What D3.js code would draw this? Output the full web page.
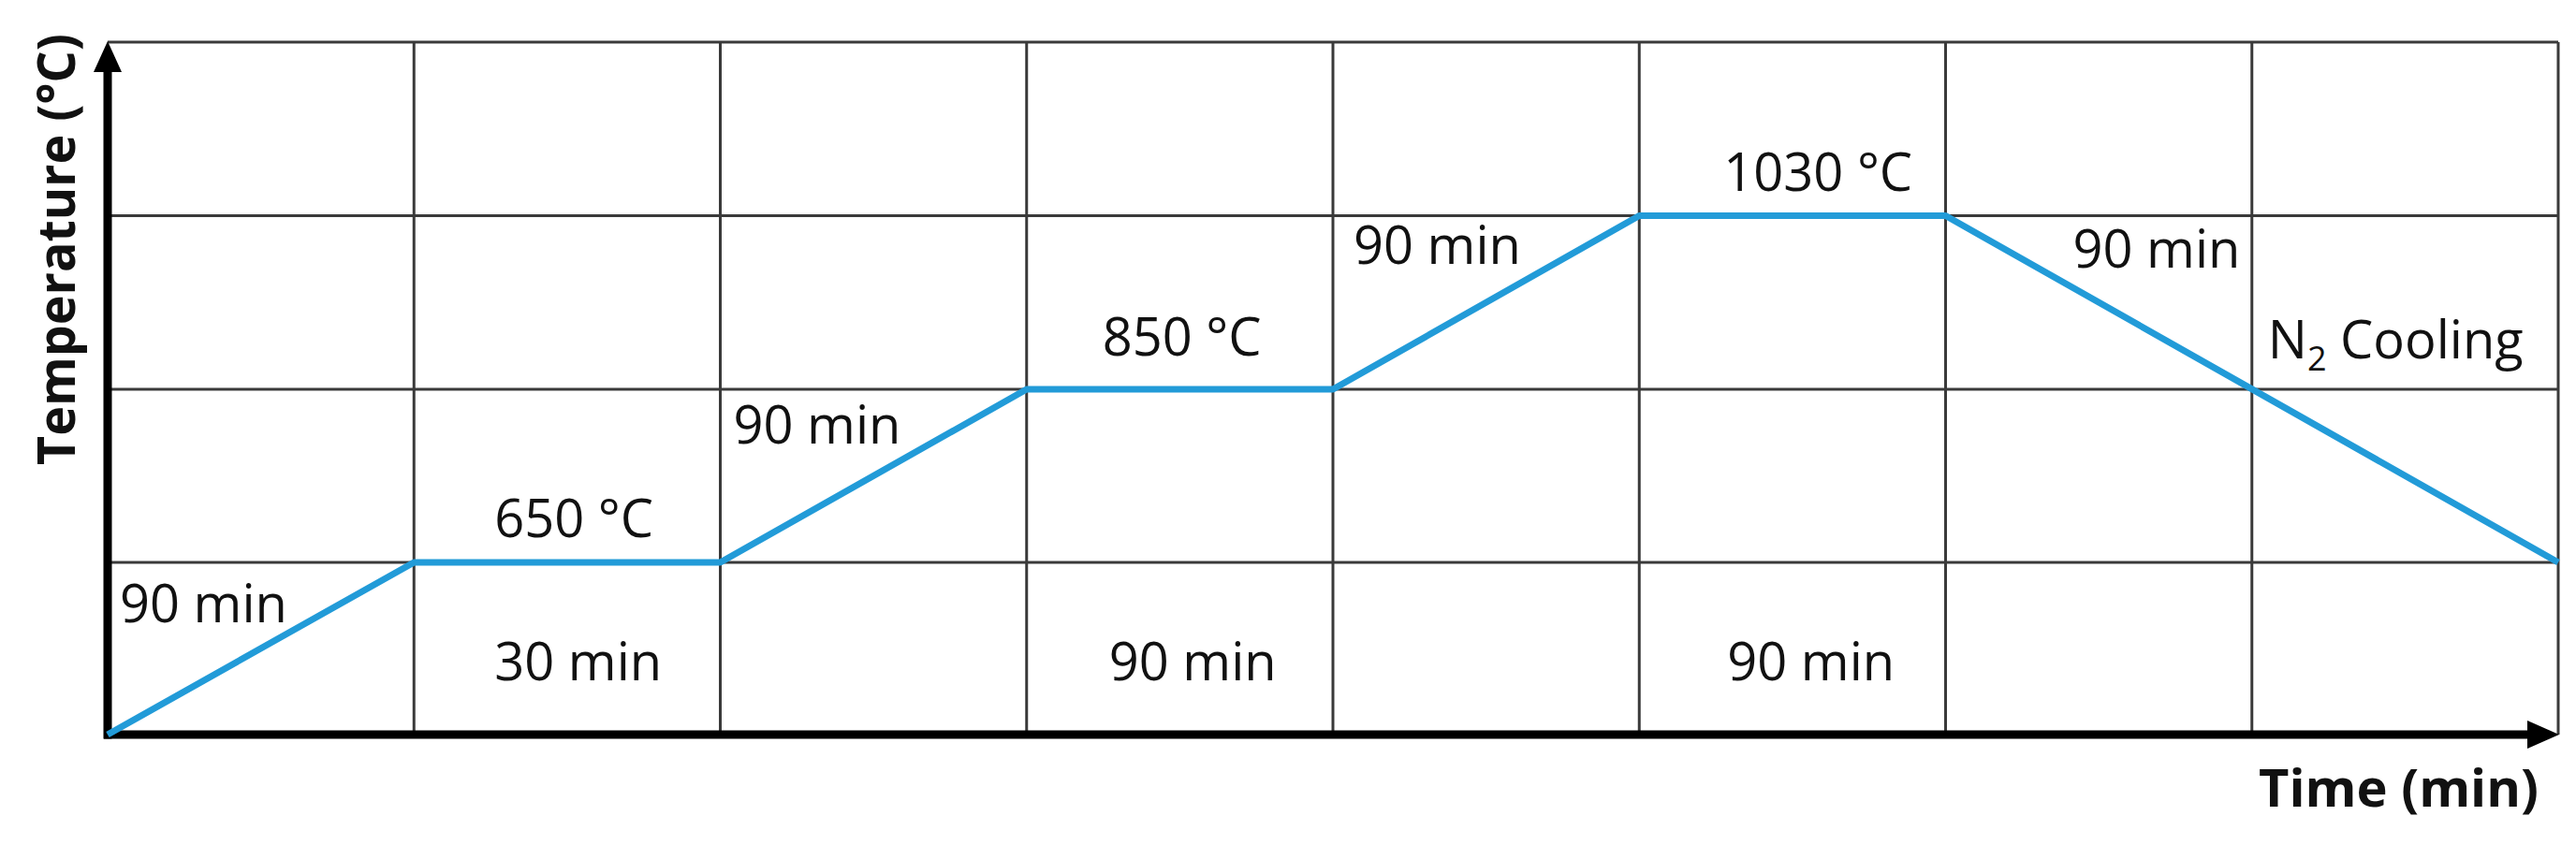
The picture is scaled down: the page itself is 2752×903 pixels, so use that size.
<!DOCTYPE html>
<html>
<head>
<meta charset="utf-8">
<script src="https://cdn.jsdelivr.net/npm/d3@7"></script>
<style>
  html, body { margin: 0; padding: 0; background: #fff; }
  svg { display: block; }
  text { font-family: "Open Sans", "Noto Sans", sans-serif; fill: #111; }
</style>
</head>
<body>
<svg id="chart" width="2752" height="903"></svg>
<script>
// ---- data (schematic heat-treatment profile) ----
const stepPositions = [0, 1, 2, 3, 4, 5, 6, 8];          // schematic grid columns
const temperatures  = [25, 650, 650, 850, 850, 1030, 1030, 650]; // °C
const tempLevels    = [25, 650, 850, 1030, 1210];           // grid levels (°C)
const columnTicks   = [1, 2, 3, 4, 5, 6, 7, 8];
const stageLabels   = ["90 min", "650 °C", "30 min", "90 min", "850 °C", "90 min",
                       "90 min", "1030 °C", "90 min", "90 min"];
const xTitle = "Time (min)";
const yTitle = "Temperature (°C)";

// ---- layout ----
const svg = d3.select("#chart");
const x = d3.scaleLinear().domain([0, 8]).range([115, 2733]);
const y = d3.scaleLinear().domain(tempLevels).range([785, 601, 416, 230.5, 45]);

// grid
const grid = svg.append("g").attr("stroke", "#3a3a3a").attr("stroke-width", 3);
grid.selectAll("line.h").data(tempLevels.slice(1)).join("line")
  .attr("x1", x(0)).attr("x2", x(8))
  .attr("y1", d => y(d)).attr("y2", d => y(d));
grid.selectAll("line.v").data(columnTicks).join("line")
  .attr("x1", d => x(d)).attr("x2", d => x(d))
  .attr("y1", y(tempLevels[4])).attr("y2", y(tempLevels[0]));

// axes
const ax = svg.append("g");
ax.append("line").attr("x1", x(0) - 4).attr("x2", x(8) - 30)
  .attr("y1", y(tempLevels[0])).attr("y2", y(tempLevels[0]))
  .attr("stroke", "#000").attr("stroke-width", 9);
ax.append("line").attr("x1", x(0)).attr("x2", x(0))
  .attr("y1", y(tempLevels[0]) + 4.5).attr("y2", y(tempLevels[4]) + 30)
  .attr("stroke", "#000").attr("stroke-width", 9);
// arrowheads
const x0 = x(0), yTop = y(tempLevels[4]), yB = y(tempLevels[0]), xR = x(8);
ax.append("path").attr("fill", "#000")
  .attr("d", `M${x0},${yTop - 1} L${x0 - 15},${yTop + 32} L${x0 + 15},${yTop + 32} Z`);
ax.append("path").attr("fill", "#000")
  .attr("d", `M${xR + 1},${yB} L${xR - 33},${yB - 15} L${xR - 33},${yB + 15} Z`);

// profile line
const pts = stepPositions.map((s, i) => [s, temperatures[i]]);
svg.append("path").datum(pts)
  .attr("fill", "none").attr("stroke", "#229bd8").attr("stroke-width", 7)
  .attr("stroke-linejoin", "round")
  .attr("d", d3.line().x(d => x(d[0])).y(d => y(d[1])));

// annotations: column reference + pixel offsets
const fs = 56;
const annot = [
  { col: 0, dx: 13,  lvl: 650,  dy: 64 },
  { col: 1, dx: 86,  lvl: 650,  dy: -27 },
  { col: 1, dx: 86,  lvl: 25,   dy: -58 },
  { col: 2, dx: 14,  lvl: 850,  dy: 58 },
  { col: 3, dx: 81,  lvl: 850,  dy: -36 },
  { col: 3, dx: 88,  lvl: 25,   dy: -58 },
  { col: 4, dx: 22,  lvl: 1030, dy: 51 },
  { col: 5, dx: 90,  lvl: 1030, dy: -27 },
  { col: 5, dx: 94,  lvl: 25,   dy: -58 },
  { col: 6, dx: 136, lvl: 1030, dy: 55 }
];
svg.append("g").selectAll("text").data(stageLabels).join("text")
  .attr("x", (d, i) => x(annot[i].col) + annot[i].dx)
  .attr("y", (d, i) => y(annot[i].lvl) + annot[i].dy)
  .attr("font-size", fs)
  .text(d => d);

// N2 Cooling with subscript
const n2 = svg.append("text").attr("x", x(7) + 17).attr("y", y(850) - 33).attr("font-size", fs);
n2.append("tspan").text("N");
n2.append("tspan").attr("font-size", 36).attr("dy", 13).text("2");
n2.append("tspan").attr("dy", -13).text(" Cooling");

// axis titles
svg.append("text").attr("x", 2712).attr("y", 862).attr("text-anchor", "end")
  .attr("font-size", fs).attr("font-weight", "bold").text(xTitle);
svg.append("text").attr("transform", "translate(80,497) rotate(-90)")
  .attr("font-size", fs).attr("font-weight", "bold")
  .attr("textLength", 461).attr("lengthAdjust", "spacingAndGlyphs")
  .text(yTitle);
</script>
</body>
</html>
